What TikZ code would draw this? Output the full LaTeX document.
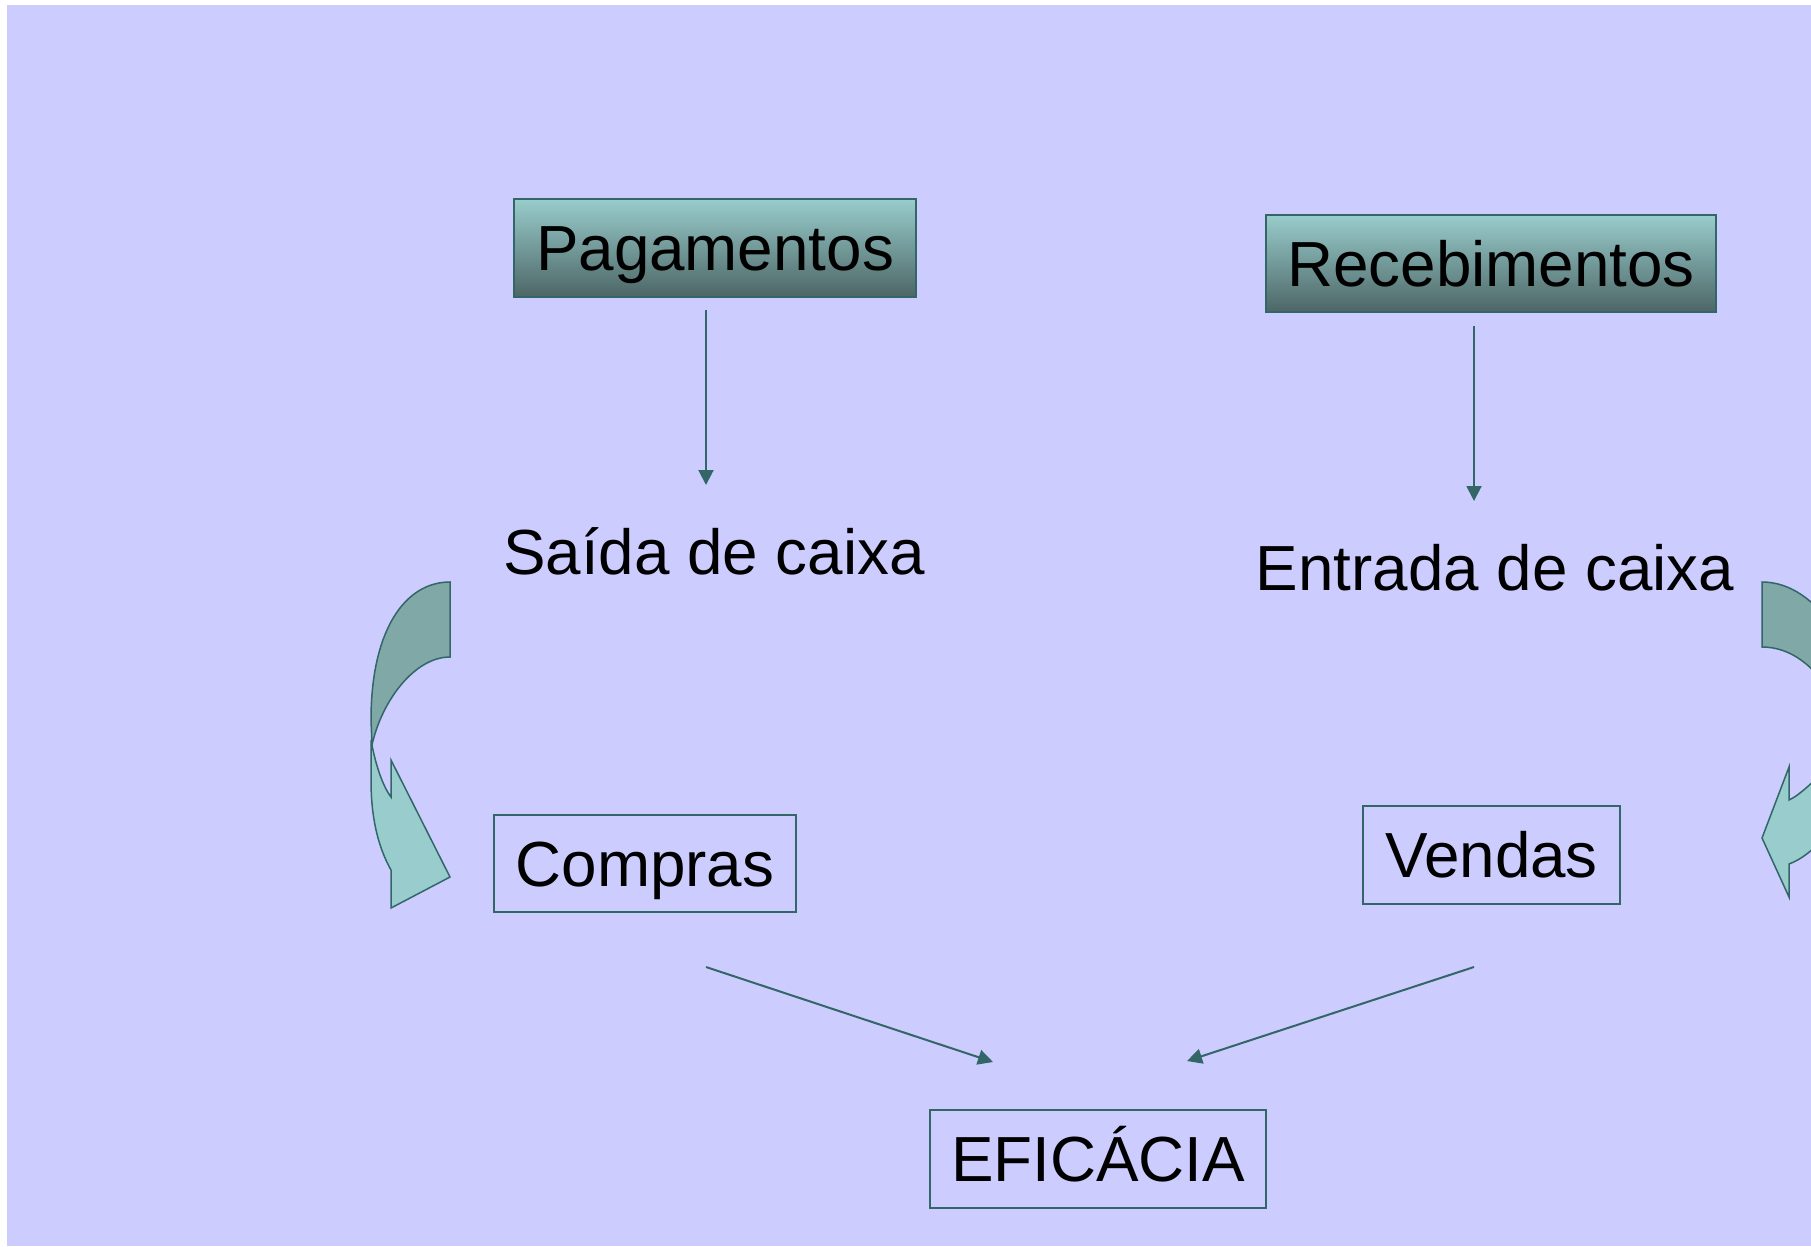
\documentclass[tikz,border=0pt]{standalone}
\usepackage{fontspec}
\setmainfont{Liberation Sans}
\usetikzlibrary{arrows.meta,positioning}
\definecolor{lavender}{HTML}{CCCCFF}
\definecolor{edge}{HTML}{336666}
\definecolor{boxtop}{HTML}{99CCCC}
\definecolor{boxbot}{HTML}{4D6666}
\definecolor{backarrow}{HTML}{7FA8A6}
\definecolor{frontarrow}{HTML}{99CCCC}
\tikzset{
    every node/.style={font=\fontsize{25.5}{30}\selectfont, inner sep=0pt},
    boxtext/.style={text height=18.6pt, text depth=0.4pt},
    titlebox/.style={boxtext, draw=edge, line width=0.6pt, top color=boxtop, bottom color=boxbot},
    plainbox/.style={boxtext, draw=edge, line width=0.6pt},
    flow/.style={-{Triangle[length=6pt,width=6pt]}, draw=edge, line width=0.8pt},
    bandarrow/.style={draw=edge, line width=0.6pt}
}
\begin{document}
\begin{tikzpicture}[x=0.4pt,y=-0.4pt]
    \useasboundingbox (0,0) rectangle (1811,1246);
    \fill[white] (0,0) rectangle (1811,1246);
    \fill[lavender] (7,5) rectangle (1811,1246);
    \clip (0,0) rectangle (1811,1246);

    \node[titlebox, minimum width=160.8pt, minimum height=39.2pt] (pag) at (715,248) {Pagamentos};
    \node[titlebox, minimum width=180pt, minimum height=38.8pt] (rec) at (1491,263.5) {Recebimentos};
    \node[anchor=base] (saida) at (714,574) {Saída de caixa};
    \node[anchor=base] (entrada) at (1495,590) {Entrada de caixa};
    \node[plainbox, minimum width=120.8pt, minimum height=38.8pt] (compras) at (645,863.5) {Compras};
    \node[plainbox, minimum width=102.8pt, minimum height=39.2pt] (vendas) at (1491.5,855) {Vendas};
    \node[plainbox, minimum width=134.4pt, minimum height=39.2pt] (efic) at (1098,1159) {EFICÁCIA};

    \coordinate (pagout) at (706,310);
    \coordinate (saidain) at (706,485);
    \coordinate (recout) at (1474,326);
    \coordinate (entradain) at (1474,501);
    \coordinate (comprasout) at (706,967);
    \coordinate (vendasout) at (1474,967);
    \coordinate (eficleft) at (993,1062);
    \coordinate (eficright) at (1187,1061);

    \draw[flow] (pagout) -- (saidain);
    \draw[flow] (recout) -- (entradain);
    \draw[flow] (comprasout) -- (eficleft);
    \draw[flow] (vendasout) -- (eficright);

    % curved arrow, left
    \draw[bandarrow, fill=backarrow] (450,582) .. controls (405,582) and (371,630) .. (371,720)
        -- (372,745) .. controls (382,700) and (415,657) .. (450,657) -- cycle;
    \draw[bandarrow, fill=frontarrow] (371,740) .. controls (376,768) and (384,788) .. (391,797)
        -- (391,760) -- (450,877) -- (391,908) -- (391,870)
        .. controls (377,845) and (371,815) .. (371,780) -- cycle;

    % curved arrow, right (cut by the frame)
    \draw[bandarrow, fill=backarrow] (1762,582) .. controls (1790,582) and (1815,600) .. (1835,630)
        -- (1835,700) .. controls (1815,665) and (1790,647) .. (1762,647) -- cycle;
    \draw[bandarrow, fill=frontarrow] (1830,765) .. controls (1815,780) and (1800,795) .. (1789,800)
        -- (1789,767) -- (1762,838) -- (1789,897) -- (1789,864)
        .. controls (1800,860) and (1815,850) .. (1830,830);
\end{tikzpicture}
\end{document}
